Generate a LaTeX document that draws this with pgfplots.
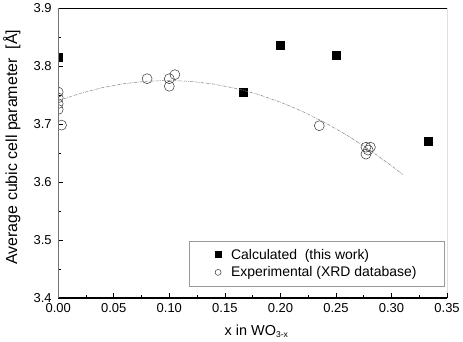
\documentclass[border=0pt]{standalone}
\usepackage{fontspec}
\setmainfont{Liberation Sans}
\usepackage{pgfplots}
\pgfplotsset{compat=1.18}
\begin{document}
\begin{tikzpicture}
\begin{axis}[
  scale only axis,
  width=390pt, height=291pt,
  xmin=0, xmax=0.35, ymin=3.4, ymax=3.9,
  xtick={0,0.05,...,0.35},
  ytick={3.4,3.5,...,3.9},
  minor x tick num=1, minor y tick num=1,
  xtick pos=left, ytick pos=left,
  tick align=inside,
  major tick length=5pt, minor tick length=3pt,
  tick style={black, line width=0.6pt},
  xticklabel style={yshift=-1.5pt, /pgf/number format/.cd, fixed, fixed zerofill, precision=2},
  yticklabel style={xshift=-3pt, /pgf/number format/.cd, fixed, fixed zerofill, precision=1},
  /pgf/number format/assume math mode=true,
  tick label style={font=\fontsize{13}{15}\selectfont},
  xlabel={x in WO\textsubscript{\fontsize{8.5}{9}\selectfont 3-x}},
  ylabel={Average cubic cell parameter\ \ [Å]},
  ylabel style={font=\fontsize{16}{18}\selectfont, at={(axis description cs:-0.119,0.52)}, anchor=center},
  xlabel style={font=\fontsize{14.5}{17}\selectfont, at={(axis description cs:0.51,-0.115)}, anchor=center},
  axis line style={draw=none},
  clip marker paths=true,
  legend style={at={(rel axis cs:0.994,0.04)}, anchor=south east, draw=gray!80, line width=0.6pt,
    font=\fontsize{14}{16}\selectfont, inner xsep=26pt, inner ysep=6pt, row sep=2pt},
  legend cell align=left,
]
\addplot[only marks, mark=square*, mark size=4pt, mark options={fill=black, draw=black},
  legend image post style={mark size=3pt}] coordinates {
  (0.0,3.815) (0.1667,3.755) (0.2,3.835) (0.25,3.819) (0.3333,3.671)
};
\addlegendentry{\hspace{8pt}Calculated\ \ (this work)}
\addplot[only marks, mark=o, mark size=5pt, mark options={draw=black!80, line width=0.5pt},
  legend image post style={mark size=3pt}] coordinates {
  (0.0,3.755) (0.0,3.745) (0.0,3.735) (0.0,3.725) (0.003,3.698)
  (0.08,3.778) (0.1,3.778) (0.1,3.765) (0.105,3.785)
  (0.235,3.697) (0.277,3.660) (0.281,3.660) (0.277,3.648) (0.279,3.655)
};
\addlegendentry{\hspace{8pt}Experimental (XRD database)\hspace{8pt}}
\addplot[gray, line width=0.5pt, dash pattern=on 3pt off 1pt on 0.6pt off 1pt, forget plot] coordinates {
  (0.00,3.7400) (0.02,3.7528) (0.04,3.7627) (0.06,3.7696) (0.08,3.7737)
  (0.10,3.7750) (0.12,3.7733) (0.14,3.7687) (0.16,3.7612) (0.18,3.7509)
  (0.20,3.7376) (0.22,3.7215) (0.24,3.7024) (0.26,3.6805) (0.28,3.6557)
  (0.30,3.6280) (0.31,3.6130)
};
\draw[black, line width=0.6pt] (rel axis cs:0,1) -- (rel axis cs:1,1) -- (rel axis cs:1,0);
\draw[black, line width=1.2pt] (rel axis cs:0,0) -- (rel axis cs:1,0);
\draw[black!55, line width=1.6pt] (rel axis cs:0,0) -- (rel axis cs:0,1);
\end{axis}
\end{tikzpicture}
\end{document}
